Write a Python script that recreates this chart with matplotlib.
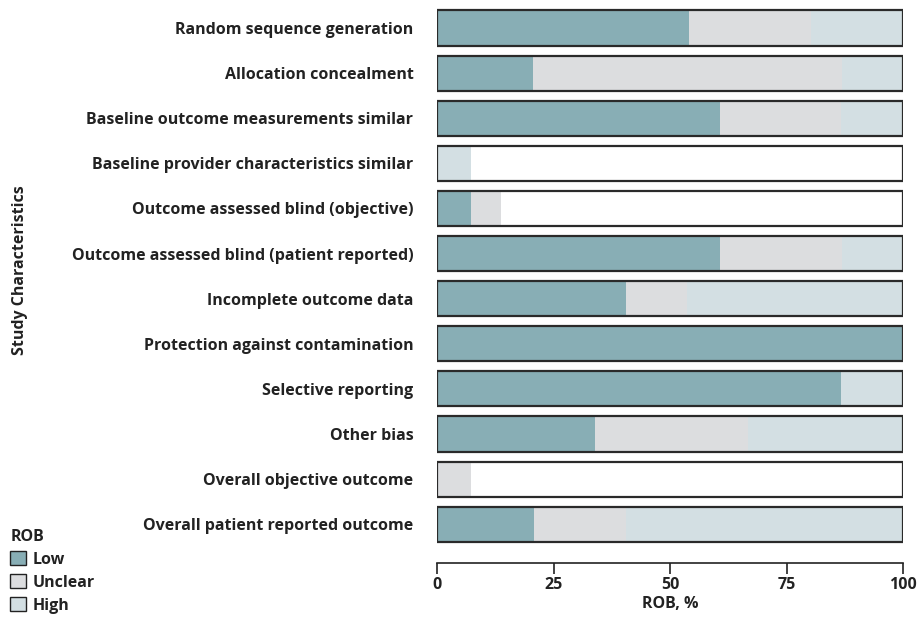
import matplotlib
matplotlib.use("Agg")
import matplotlib.pyplot as plt
from matplotlib.patches import Patch
import numpy as np

plt.rcParams['font.family'] = ['Open Sans', 'DejaVu Sans']
plt.rcParams['font.weight'] = 'bold'

categories = [
    "Random sequence generation",
    "Allocation concealment",
    "Baseline outcome measurements similar",
    "Baseline provider characteristics similar",
    "Outcome assessed blind (objective)",
    "Outcome assessed blind (patient reported)",
    "Incomplete outcome data",
    "Protection against contamination",
    "Selective reporting",
    "Other bias",
    "Overall objective outcome",
    "Overall patient reported outcome",
]
low = [54.0, 20.5, 60.7, 0.0, 7.3, 60.7, 40.6, 100.0, 86.7, 33.8, 0.0, 20.8]
unclear = [26.3, 66.4, 26.0, 0.0, 6.4, 26.2, 13.0, 0.0, 0.0, 33.0, 7.3, 19.8]
high = [19.7, 13.1, 13.3, 7.3, 0.0, 13.1, 46.4, 0.0, 13.3, 33.2, 0.0, 59.4]
series_names = ["Low", "Unclear", "High"]
colors = ["#88AEB5", "#DCDDDF", "#D3DFE3"]
xticks = [0, 25, 50, 75, 100]

fig = plt.figure(figsize=(9.22, 6.2), dpi=100)
ax = fig.add_axes([437/922, 1-563/620, (903-437)/922, (563-5)/620])

y = np.arange(len(categories))
h = 0.78
left = np.zeros(len(categories))
for vals, c in zip([low, unclear, high], colors):
    vals = np.array(vals)
    ax.barh(y, vals, left=left, height=h, color=c, edgecolor='none', zorder=2)
    left += vals
# outline boxes for full 0-100 range
ax.barh(y, [100]*len(categories), left=0, height=h, facecolor='none',
        edgecolor='#2a2a2a', linewidth=1.6, zorder=3)

ax.set_ylim(11.86, -0.51)
ax.set_xlim(0, 100)
ax.set_yticks(y)
ax.set_yticklabels(categories, fontsize=11.5, fontweight='bold', color='#222222')
ax.tick_params(axis='y', length=0, pad=17)
ax.set_xticks(xticks)
ax.set_xticklabels([str(t) for t in xticks], fontsize=11.5, fontweight='bold', color='#222222')
ax.tick_params(axis='x', length=8, width=1.2, color='#222222', pad=2)
for s in ['left', 'top', 'right']:
    ax.spines[s].set_visible(False)
ax.spines['bottom'].set_color('#222222')
ax.spines['bottom'].set_linewidth(1.2)
ax.set_xlabel("ROB, %", fontsize=11.5, fontweight='bold', color='#222222', labelpad=2)

fig.text(20/922, 1-270/620, "Study Characteristics", rotation=90, ha='center', va='center',
         fontsize=11.5, fontweight='bold', color='#222222')

handles = [Patch(facecolor=c, edgecolor='#222222', linewidth=1.0) for c in colors]
leg = fig.legend(handles, series_names, loc='lower left', bbox_to_anchor=(4/922, 0.0),
                 frameon=False, title="ROB", fontsize=11.5, title_fontsize=11.5,
                 handlelength=1.0, handleheight=1.0, handletextpad=0.4, labelspacing=0.4,
                 borderaxespad=0.3, borderpad=0.1)
leg.get_title().set_fontweight('bold')
leg._legend_box.align = "left"
for t in leg.get_texts():
    t.set_color('#222222')
leg.get_title().set_color('#222222')

fig.savefig("out.png", dpi=100)
